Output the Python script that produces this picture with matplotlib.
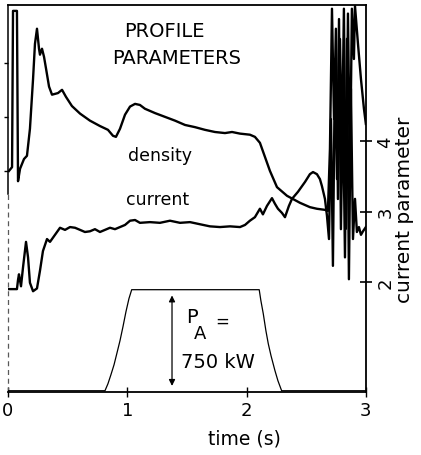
import matplotlib
matplotlib.use("Agg")
from matplotlib import pyplot as plt

# density trace (arbitrary units, left axis ticks unlabeled at 1, 2, 3)
density_t = [0.008, 0.034, 0.042, 0.075, 0.084, 0.101, 0.134, 0.159, 0.184, 0.210,
             0.226, 0.243, 0.260, 0.268, 0.285, 0.302, 0.319, 0.344, 0.369, 0.419,
             0.453, 0.486, 0.536, 0.604, 0.687, 0.771, 0.838, 0.880, 0.905, 0.939,
             0.981, 1.023, 1.065, 1.106, 1.148, 1.232, 1.316, 1.400, 1.484, 1.567,
             1.651, 1.735, 1.819, 1.878, 1.945, 2.028, 2.070, 2.112, 2.154, 2.196,
             2.255, 2.339, 2.448, 2.531, 2.590, 2.657, 2.682, 2.699, 2.716, 2.733,
             2.749, 2.766, 2.783, 2.800, 2.816, 2.833, 2.850, 2.867, 2.883, 2.900,
             2.909, 2.934, 2.959, 2.984, 3.0]
density_v = [1.00, 1.07, 3.96, 3.96, 0.81, 1.04, 1.22, 1.28, 1.78, 2.70,
             3.35, 3.63, 3.26, 3.15, 3.26, 3.11, 2.89, 2.56, 2.41, 2.44,
             2.50, 2.37, 2.20, 2.06, 1.93, 1.83, 1.76, 1.65, 1.63, 1.78,
             2.04, 2.19, 2.24, 2.22, 2.15, 2.07, 2.00, 1.93, 1.85, 1.81,
             1.76, 1.72, 1.70, 1.72, 1.69, 1.67, 1.63, 1.52, 1.26, 1.00,
             0.70, 0.54, 0.41, 0.33, 0.30, 0.28, 0.26, 1.41, 4.00, 1.96,
             3.63, 0.48, 3.44, 1.41, 4.00, -0.07, 3.91, 0.85, 4.00, 3.07,
             4.05, 3.35, 2.70, 2.15, 1.87]

# current profile parameter (right axis)
current_t = [0.0, 0.075, 0.084, 0.092, 0.109, 0.126, 0.151, 0.168, 0.184, 0.210,
             0.243, 0.268, 0.293, 0.327, 0.352, 0.394, 0.436, 0.478, 0.520, 0.562,
             0.604, 0.645, 0.687, 0.729, 0.771, 0.813, 0.855, 0.897, 0.939, 0.981,
             1.023, 1.065, 1.106, 1.190, 1.274, 1.358, 1.442, 1.526, 1.609, 1.693,
             1.777, 1.861, 1.945, 1.987, 2.028, 2.070, 2.112, 2.137, 2.171, 2.213,
             2.238, 2.263, 2.297, 2.322, 2.355, 2.381, 2.431, 2.490, 2.531, 2.557,
             2.590, 2.615, 2.632, 2.657, 2.674, 2.691, 2.708, 2.724, 2.741, 2.758,
             2.775, 2.791, 2.808, 2.825, 2.842, 2.858, 2.875, 2.892, 2.909, 2.925,
             2.942, 2.959, 2.976, 3.0]
current_v = [1.90, 1.90, 2.03, 2.11, 1.94, 2.21, 2.57, 2.35, 1.99, 1.87,
             1.91, 2.16, 2.44, 2.61, 2.57, 2.67, 2.77, 2.74, 2.78, 2.77,
             2.74, 2.71, 2.72, 2.75, 2.71, 2.74, 2.77, 2.75, 2.78, 2.81,
             2.87, 2.88, 2.84, 2.85, 2.84, 2.87, 2.84, 2.85, 2.82, 2.79,
             2.78, 2.79, 2.78, 2.81, 2.87, 2.92, 3.04, 2.96, 3.08, 3.19,
             3.11, 3.04, 2.98, 2.92, 3.08, 3.18, 3.28, 3.42, 3.53, 3.56,
             3.53, 3.46, 3.36, 3.18, 2.94, 2.61, 4.31, 2.23, 5.16, 3.46,
             5.73, 2.75, 4.60, 2.35, 5.45, 2.04, 4.74, 2.61, 3.18, 2.71,
             2.78, 2.67, 2.72, 2.78]

# auxiliary heating power (kW)
power_t = [0.0, 0.813, 0.838, 0.863, 0.889, 0.914, 0.939, 0.964, 0.989, 1.014,
           1.037, 2.106, 2.120, 2.140, 2.162, 2.182, 2.205, 2.238, 2.263, 2.294, 3.0]
power_kw = [0, 0, 52, 119, 193, 282, 372, 476, 587, 684,
            750, 750, 669, 572, 446, 349, 260, 149, 74, 0, 0]

time_ticks = [0, 1, 2, 3]
current_ticks = [2, 3, 4]
density_ticks = [1, 2, 3]

fig = plt.figure(figsize=(4.21, 4.56), dpi=100)
axis = fig.add_axes([0.019, 0.138, 0.85, 0.849])
axis_r = axis.twinx()
axis_p = axis.twinx()

axis.plot(density_t, density_v, color="black", linewidth=1.7)
axis.set_xlim(0, 3)
axis.set_ylim(-3.09, 4.07)
axis.set_yticks(density_ticks)
axis.set_yticklabels([])
axis.tick_params(axis="y", direction="out", length=3, width=1)
axis.set_xticks(time_ticks)
axis.set_xticklabels([str(t) for t in time_ticks])
axis.tick_params(axis="x", direction="inout", length=7, width=1, labelsize=13, pad=3)
axis.set_xlabel("time (s)", fontsize=13.5)
axis.xaxis.set_label_coords(0.662, -0.095)

# left axis line is solid at the top and broken lower down
axis.spines["left"].set_visible(False)
axis.plot([0, 0], [0.512, 1], transform=axis.transAxes, color="black",
          linewidth=1.1, clip_on=False)
axis.plot([0, 0], [0, 0.512], transform=axis.transAxes, color="0.35",
          linewidth=0.9, linestyle=(0, (4, 3)), clip_on=False)
for name in ["top", "bottom", "right"]:
    axis.spines[name].set_linewidth(1.3)

axis_r.plot(current_t, current_v, color="black", linewidth=1.7)
axis_r.set_ylim(0.44, 5.93)
axis_r.set_yticks(current_ticks)
axis_r.set_yticklabels([str(c) for c in current_ticks], rotation=90, va="center")
axis_r.tick_params(axis="y", direction="inout", length=9, width=1.2,
                   labelsize=13, pad=3)
axis_r.set_ylabel("current parameter", fontsize=14.5, rotation=90)
axis_r.yaxis.set_label_coords(1.081, 0.473)
for spine in axis_r.spines.values():
    spine.set_visible(False)

axis_p.plot(power_t, power_kw, color="black", linewidth=0.9)
axis_p.set_ylim(-10, 2864)
axis_p.set_yticks([])
for spine in axis_p.spines.values():
    spine.set_visible(False)
axis_p.annotate("", xy=(1.375, 728), xytext=(1.375, 15),
                arrowprops=dict(arrowstyle="<|-|>", color="black", linewidth=0.9,
                                mutation_scale=9))

axis.text(0.436, 0.935, "PROFILE", transform=axis.transAxes, fontsize=14,
          ha="center", va="center")
axis.text(0.471, 0.863, "PARAMETERS", transform=axis.transAxes, fontsize=14,
          ha="center", va="center")
axis.text(0.425, 0.612, "density", transform=axis.transAxes, fontsize=12.5,
          ha="center", va="center")
axis.text(0.419, 0.499, "current", transform=axis.transAxes, fontsize=12.5,
          ha="center", va="center")
axis.text(0.514, 0.196, "P", transform=axis.transAxes, fontsize=14,
          ha="center", va="center")
axis.text(0.536, 0.152, "A", transform=axis.transAxes, fontsize=13,
          ha="center", va="center")
axis.text(0.598, 0.183, "=", transform=axis.transAxes, fontsize=12,
          ha="center", va="center")
axis.text(0.587, 0.078, "750 kW", transform=axis.transAxes, fontsize=14,
          ha="center", va="center")

fig.savefig("out.png", dpi=100)
